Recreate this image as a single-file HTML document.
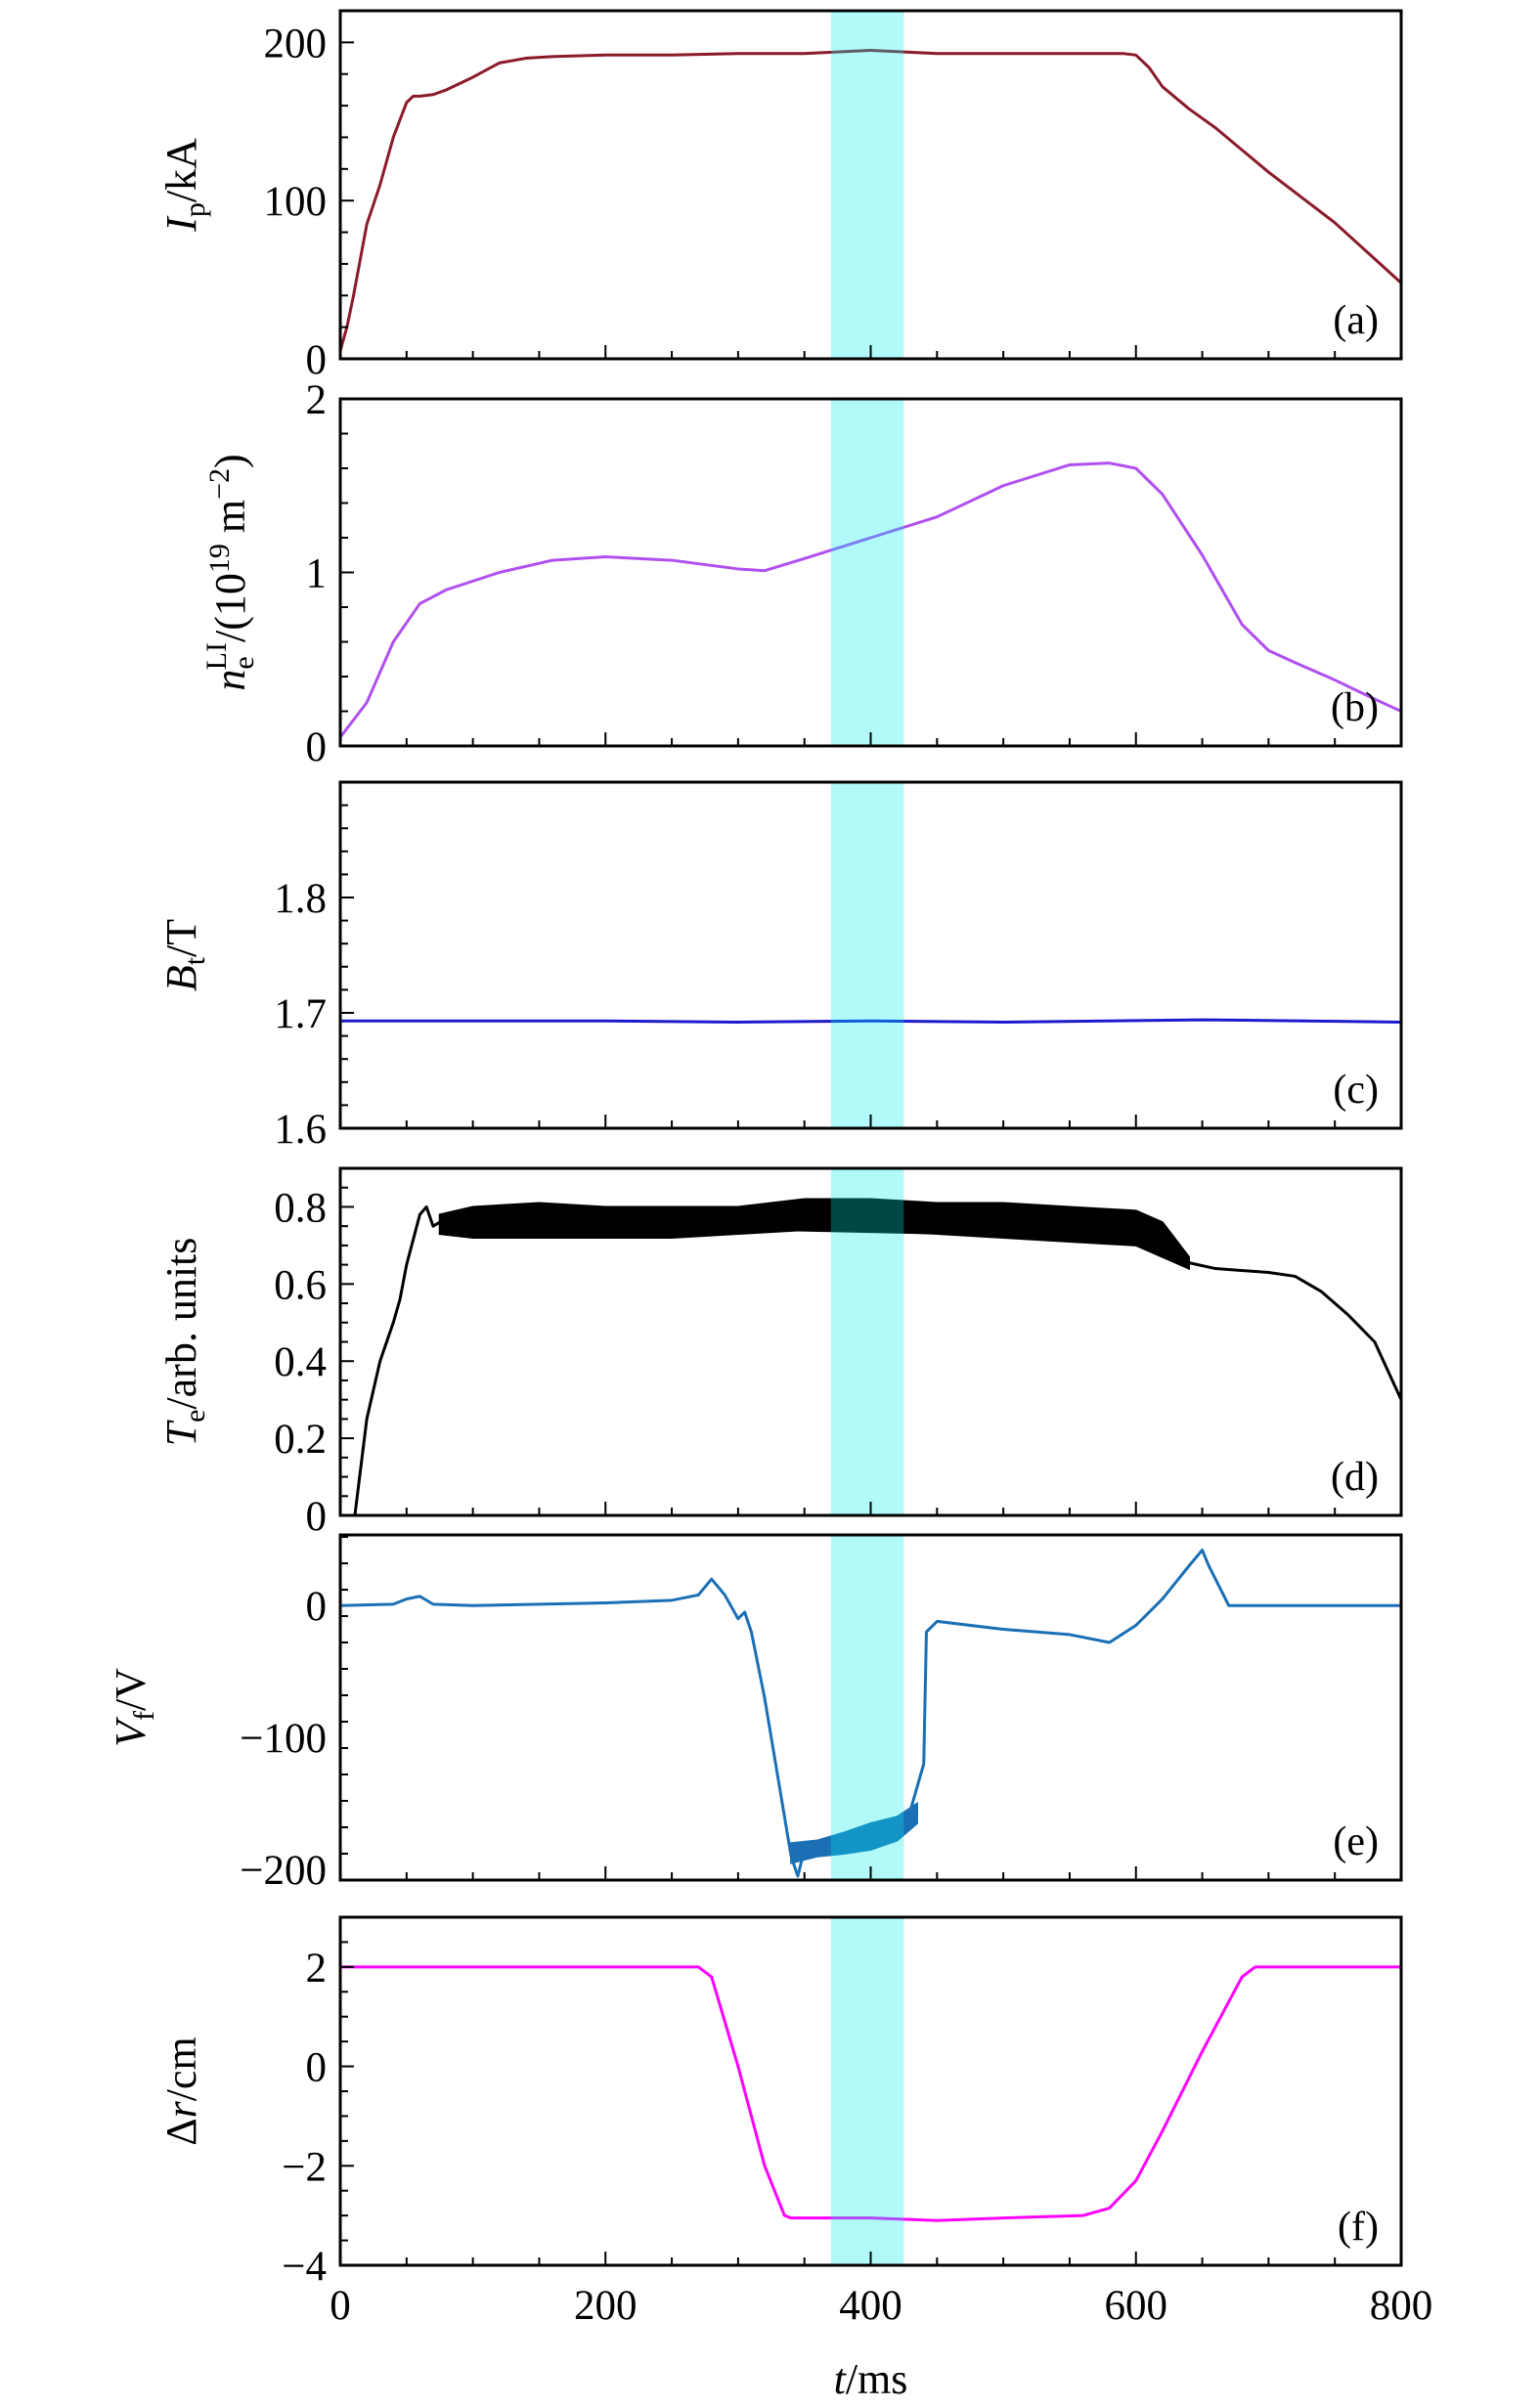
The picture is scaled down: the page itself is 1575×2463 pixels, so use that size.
<!DOCTYPE html>
<html><head><meta charset="utf-8">
<style>
html,body{margin:0;padding:0;background:#fff;}
svg{display:block;font-family:"Liberation Serif","DejaVu Serif",serif;}
</style></head>
<body>
<svg id="chart" width="1575" height="2463" viewBox="0 0 1575 2463" xmlns="http://www.w3.org/2000/svg"></svg>
<script>
// ---- data ----
const ipT = [0,5,10,20,30,40,50,55,60,70,80,100,120,140,160,200,250,300,350,400,450,500,550,590,600,610,620,640,660,700,750,800];
const ipV = [5,20,40,85,110,140,162,166,166,167,170,178,187,190,191,192,192,193,193,195,193,193,193,193,192,184,172,158,146,118,86,48];
const neT = [0,20,40,60,80,120,160,200,250,300,320,350,400,450,500,550,580,600,620,650,680,700,720,750,780,800];
const neV = [0.05,0.25,0.6,0.82,0.9,1.0,1.07,1.09,1.07,1.02,1.01,1.08,1.2,1.32,1.5,1.62,1.63,1.6,1.45,1.1,0.7,0.55,0.48,0.38,0.27,0.2];
const btT = [0,100,200,300,400,500,650,800];
const btV = [1.693,1.693,1.693,1.692,1.693,1.692,1.694,1.692];
const teT = [11,20,30,40,45,50,60,65,70,75,620,640,660,700,720,740,760,780,800];
const teV = [0,0.25,0.4,0.5,0.56,0.65,0.78,0.8,0.75,0.76,0.72,0.655,0.64,0.63,0.62,0.58,0.52,0.45,0.3];
const teBandT = [75,100,150,200,250,300,350,400,450,500,550,600,620,640];
const teBandLo = [0.73,0.72,0.72,0.72,0.72,0.73,0.74,0.74,0.73,0.72,0.71,0.70,0.67,0.64];
const teBandHi = [0.78,0.80,0.81,0.80,0.80,0.80,0.82,0.82,0.81,0.81,0.80,0.79,0.76,0.67];
const vfT = [0,40,50,60,70,100,200,250,270,280,290,300,305,310,320,330,340,345,350,370,400,420,430,440,442,450,500,550,580,600,620,640,650,655,660,670,800];
const vfV = [0,1,5,7,1,0,2,4,8,20,8,-10,-5,-20,-70,-130,-190,-205,-185,-180,-175,-165,-155,-120,-20,-12,-18,-22,-28,-15,5,30,42,30,20,0,0];
const vfBandT = [340,360,380,400,420,435];
const vfBandLo = [-195,-190,-188,-185,-178,-165];
const vfBandHi = [-180,-178,-172,-165,-160,-150];
const drT = [0,270,280,300,320,335,340,400,450,500,560,580,600,620,650,680,690,800];
const drV = [2,2,1.8,0,-2,-3,-3.05,-3.05,-3.1,-3.05,-3.0,-2.85,-2.3,-1.3,0.3,1.8,2,2];
const xTicks = [0,200,400,600,800];
const shade = [370,425];

const NS="http://www.w3.org/2000/svg";
const svg=document.getElementById('chart');
const X0=348,X1=1433;
const xs=t=>X0+(t/800)*(X1-X0);
function mk(tag,attrs,parent){const e=document.createElementNS(NS,tag);for(const k in attrs)e.setAttribute(k,attrs[k]);(parent||svg).appendChild(e);return e;}

function panel(cfg){
  const g=mk('g',{});
  
  
  const ys=v=>cfg.bot-(v-cfg.min)/(cfg.max-cfg.min)*(cfg.bot-cfg.top);
  if(cfg.bands){cfg.bands.forEach(b=>{
    let d='';b.t.forEach((t,i)=>{d+=(i?'L':'M')+xs(t)+','+ys(b.hi[i]);});
    for(let i=b.t.length-1;i>=0;i--)d+='L'+xs(b.t[i])+','+ys(b.lo[i]);
    const p=mk('path',{d:d+'Z',fill:cfg.color,stroke:cfg.color,'stroke-width':2},g);
    
    
  });}
  let d='';cfg.t.forEach((t,i)=>{d+=(i?'L':'M')+xs(t)+','+ys(cfg.v[i]);});
  const line=mk('path',{d:d,fill:'none',stroke:cfg.color,'stroke-width':3,'stroke-linejoin':'round'},g);
  
  
  const r=mk('rect',{x:xs(shade[0]),y:cfg.top,width:xs(shade[1])-xs(shade[0]),height:cfg.bot-cfg.top,fill:'#00f0f0','fill-opacity':0.3},g);
  
  
  const f=mk('rect',{x:X0,y:cfg.top,width:X1-X0,height:cfg.bot-cfg.top,fill:'none',stroke:'#000','stroke-width':3},g);
  
  
  for(let t=0;t<=800;t+=50){const L=(t%200===0)?14:8;mk('line',{x1:xs(t),x2:xs(t),y1:cfg.bot,y2:cfg.bot-L,stroke:'#000','stroke-width':2},g);}
  const n=Math.round((cfg.max-cfg.min)/cfg.minor);
  for(let i=0;i<=n;i++){const v=cfg.min+i*cfg.minor;const y=ys(v);if(y<cfg.top-1)continue;
    const isMaj=Math.abs(v/cfg.major-Math.round(v/cfg.major))<1e-6;
    mk('line',{x1:X0,x2:X0+(isMaj?14:8),y1:y,y2:y,stroke:'#000','stroke-width':2},g);}
  cfg.labels.forEach((lab,i)=>{const tx=mk('text',{x:X0-14,y:ys(cfg.labelV[i])+15,'text-anchor':'end','font-size':43},g);tx.textContent=lab;
    
    });
  const pl=mk('text',{x:1410,y:cfg.bot-26,'text-anchor':'end','font-size':42},g);pl.textContent=cfg.letter;
  
  
  const yt=mk('text',{x:0,y:0,'text-anchor':'middle','font-size':44,transform:`translate(${cfg.tx},${(cfg.top+cfg.bot)/2}) rotate(-90)`},g);
  yt.innerHTML=cfg.title;
  
  
}

panel({name:'plasma-current',color:'#8b1a2b',t:ipT,v:ipV,top:11,bot:367,min:0,max:220,major:100,minor:20,labels:['0','100','200'],labelV:[0,100,200],letter:'(a)',tx:200,
  title:'<tspan font-style="italic">I</tspan><tspan font-size="30" dy="9">p</tspan><tspan dy="-9">/kA</tspan>'});
panel({name:'line-density',color:'#b050f0',t:neT,v:neV,top:408,bot:763,min:0,max:2,major:1,minor:0.2,labels:['0','1','2'],labelV:[0,1,2],letter:'(b)',tx:250,
  title:'<tspan font-style="italic">n</tspan><tspan font-size="30" dy="9">e</tspan><tspan font-size="30" dx="-14" dy="-28">LI</tspan><tspan dy="19">/(10</tspan><tspan font-size="30" dy="-16">19</tspan><tspan dy="16"> m</tspan><tspan font-size="30" dy="-16">−2</tspan><tspan dy="16">)</tspan>'});
panel({name:'toroidal-field',color:'#1a1acc',t:btT,v:btV,top:800,bot:1154,min:1.6,max:1.9,major:0.1,minor:0.02,labels:['1.6','1.7','1.8'],labelV:[1.6,1.7,1.8],letter:'(c)',tx:200,
  title:'<tspan font-style="italic">B</tspan><tspan font-size="30" dy="9">t</tspan><tspan dy="-9">/T</tspan>'});
panel({name:'electron-temperature',color:'#000',t:teT,v:teV,bands:[{t:teBandT,lo:teBandLo,hi:teBandHi}],top:1195,bot:1550,min:0,max:0.9,major:0.2,minor:0.05,labels:['0','0.2','0.4','0.6','0.8'],labelV:[0,0.2,0.4,0.6,0.8],letter:'(d)',tx:200,
  title:'<tspan font-style="italic">T</tspan><tspan font-size="30" dy="9">e</tspan><tspan dy="-9">/arb. units</tspan>'});
panel({name:'floating-potential',color:'#1a6fb5',t:vfT,v:vfV,bands:[{t:vfBandT,lo:vfBandLo,hi:vfBandHi}],top:1570,bot:1923,min:-208,max:53.5,major:100,minor:20,labels:['−200','−100','0'],labelV:[-200,-100,0],letter:'(e)',tx:148,
  title:'<tspan font-style="italic">V</tspan><tspan font-size="30" dy="9">f</tspan><tspan dy="-9">/V</tspan>'});
panel({name:'radial-shift',color:'#ff00ff',t:drT,v:drV,top:1961,bot:2317,min:-4,max:3,major:2,minor:0.5,labels:['−4','−2','0','2'],labelV:[-4,-2,0,2],letter:'(f)',tx:200,
  title:'Δ<tspan font-style="italic">r</tspan>/cm'});

xTicks.forEach(t=>{const tx=mk('text',{x:xs(t),y:2372,'text-anchor':'middle','font-size':43});tx.textContent=String(t);
  
  });
const xt=mk('text',{x:(X0+X1)/2,y:2448,'text-anchor':'middle','font-size':44});
xt.innerHTML='<tspan font-style="italic">t</tspan>/ms';


</script>
</body></html>
